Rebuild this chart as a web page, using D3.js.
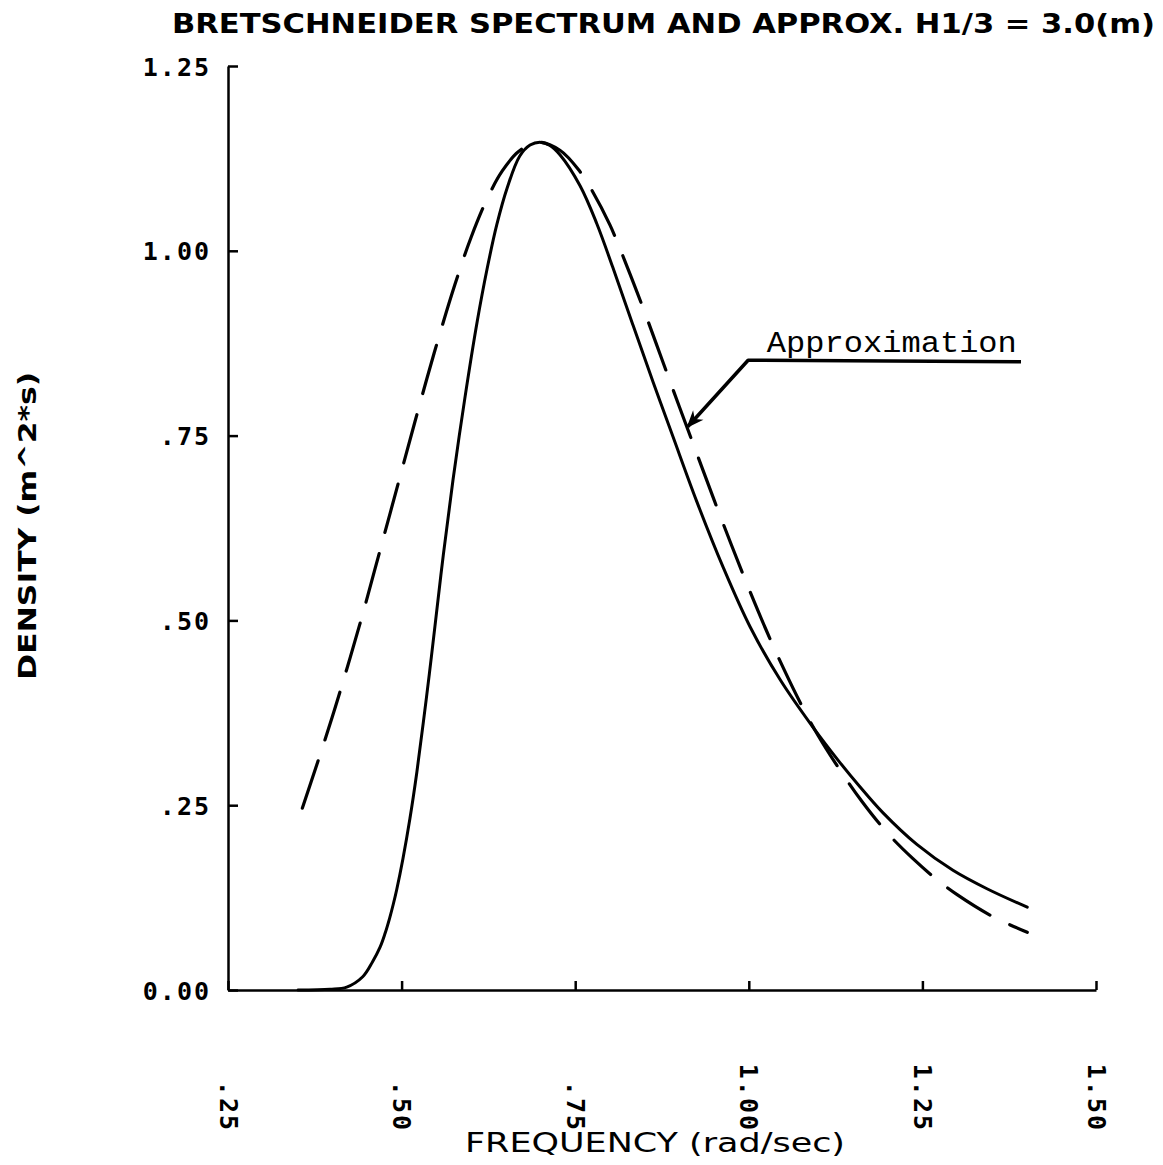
<!DOCTYPE html>
<html>
<head>
<meta charset="utf-8">
<script src="https://cdn.jsdelivr.net/npm/d3@7"></script>
<style>
  body { margin: 0; background: #fff; }
  .axis path, .axis line { stroke: #000; stroke-width: 2.5; }
  .axis text { font-family: "DejaVu Sans Mono", monospace; font-weight: bold; font-size: 25px; letter-spacing: 2px; fill: #000; }
  .label { font-family: "DejaVu Sans", sans-serif; fill: #000; }
</style>
</head>
<body>
<div id="chart"></div>
<script>
// axis ticks and labels
const freqTicks = [0.25, 0.50, 0.75, 1.00, 1.25, 1.50];
const freqLabels = ['.25', '.50', '.75', '1.00', '1.25', '1.50'];
const densityTicks = [0.00, 0.25, 0.50, 0.75, 1.00, 1.25];
const densityLabels = ['0.00', '.25', '.50', '.75', '1.00', '1.25'];

// Bretschneider spectrum (solid)
const spectrumFreq = [0.351, 0.397, 0.421, 0.444, 0.458, 0.469, 0.476, 0.483, 0.488, 0.493,
  0.502, 0.512, 0.522, 0.531, 0.540, 0.548, 0.560, 0.574, 0.591, 0.609,
  0.623, 0.637, 0.652, 0.670, 0.685, 0.699, 0.713, 0.728, 0.757, 0.781,
  0.804, 0.833, 0.862, 0.891, 0.925, 0.963, 1.002, 1.045, 1.092, 1.131,
  1.160, 1.193, 1.242, 1.294, 1.343, 1.401];
const spectrumDensity = [0.000, 0.001, 0.004, 0.018, 0.038, 0.058, 0.076, 0.098, 0.116, 0.136,
  0.178, 0.232, 0.295, 0.360, 0.428, 0.492, 0.588, 0.690, 0.800, 0.905,
  0.975, 1.035, 1.085, 1.128, 1.143, 1.147, 1.143, 1.130, 1.088, 1.037,
  0.978, 0.900, 0.823, 0.748, 0.661, 0.572, 0.491, 0.420, 0.356, 0.308,
  0.275, 0.240, 0.197, 0.162, 0.137, 0.112];

// approximation (dashed)
const approxFreq = [0.357, 0.378, 0.400, 0.421, 0.442, 0.467, 0.493, 0.519, 0.547, 0.577,
  0.600, 0.624, 0.645, 0.668, 0.695, 0.728, 0.757, 0.774, 0.800, 0.825,
  0.850, 0.875, 0.900, 0.925, 0.950, 0.975, 1.000, 1.025, 1.050, 1.075,
  1.100, 1.131, 1.163, 1.200, 1.236, 1.270, 1.300, 1.350, 1.401];
const approxDensity = [0.246, 0.305, 0.369, 0.434, 0.502, 0.588, 0.678, 0.768, 0.862, 0.955,
  1.018, 1.072, 1.108, 1.134, 1.147, 1.136, 1.107, 1.082, 1.035, 0.978,
  0.917, 0.853, 0.789, 0.726, 0.663, 0.602, 0.543, 0.487, 0.435, 0.387,
  0.344, 0.298, 0.255, 0.212, 0.178, 0.150, 0.129, 0.100, 0.078];

// annotation, in data units
const noteText = 'Approximation';
const noteTextAt = [1.026, 0.863];
const noteLine = [[1.392, 0.850], [0.999, 0.852], [0.912, 0.762]];

const W = 1163, H = 1165;
const margin = {top: 66, right: 67, bottom: 175, left: 228};
const width = W - margin.left - margin.right;
const height = H - margin.top - margin.bottom;

const x = d3.scaleLinear().domain([0.25, 1.5]).range([0, width]);
const y = d3.scaleLinear().domain([0, 1.25]).range([height, 0]);

const svg = d3.select('#chart').append('svg')
  .attr('width', W)
  .attr('height', H);

svg.append('defs').append('marker')
  .attr('id', 'head')
  .attr('viewBox', '0 0 10 10')
  .attr('refX', 9).attr('refY', 5)
  .attr('markerWidth', 7).attr('markerHeight', 5)
  .attr('markerUnits', 'strokeWidth')
  .attr('orient', 'auto')
  .append('path')
  .attr('d', 'M0,1 L10,5 L0,9 L3,5 Z')
  .attr('fill', '#000');

const g = svg.append('g')
  .attr('transform', `translate(${margin.left},${margin.top})`);

// title
svg.append('text')
  .attr('class', 'label')
  .attr('x', 172).attr('y', 33)
  .attr('textLength', 983)
  .attr('lengthAdjust', 'spacingAndGlyphs')
  .style('font-size', '26px')
  .style('font-weight', 'bold')
  .text('BRETSCHNEIDER SPECTRUM AND APPROX. H1/3 = 3.0(m)');

// y axis
g.append('g')
  .attr('class', 'axis')
  .call(d3.axisLeft(y)
    .tickValues(densityTicks)
    .tickFormat((d, i) => densityLabels[i])
    .tickSizeInner(-10)
    .tickSizeOuter(0)
    .tickPadding(17))
  .selectAll('text')
  .attr('dy', '0.36em');

// x axis
const xAxisG = g.append('g')
  .attr('class', 'axis')
  .attr('transform', `translate(0,${height})`)
  .call(d3.axisBottom(x)
    .tickValues(freqTicks)
    .tickFormat((d, i) => freqLabels[i])
    .tickSizeInner(-9)
    .tickSizeOuter(0));

xAxisG.selectAll('text')
  .attr('transform', 'rotate(90)')
  .attr('x', 142)
  .attr('y', 0)
  .attr('dy', '0.36em')
  .style('text-anchor', 'end');

// axis titles
svg.append('text')
  .attr('class', 'label')
  .attr('transform', 'translate(36,526) rotate(-90)')
  .attr('text-anchor', 'middle')
  .attr('textLength', 308)
  .attr('lengthAdjust', 'spacingAndGlyphs')
  .style('font-size', '24px')
  .style('font-weight', 'bold')
  .text('DENSITY (m^2*s)');

svg.append('text')
  .attr('class', 'label')
  .attr('x', 655).attr('y', 1152)
  .attr('text-anchor', 'middle')
  .attr('textLength', 380)
  .attr('lengthAdjust', 'spacingAndGlyphs')
  .style('font-size', '26px')
  .text('FREQUENCY (rad/sec)');

// curves
const line = d3.line()
  .curve(d3.curveCatmullRom.alpha(0.5))
  .x(d => x(d[0]))
  .y(d => y(d[1]));

g.append('path')
  .datum(spectrumFreq.map((f, i) => [f, spectrumDensity[i]]))
  .attr('d', line)
  .attr('fill', 'none')
  .attr('stroke', '#000')
  .attr('stroke-width', 3)
  .attr('stroke-linecap', 'round');

g.append('path')
  .datum(approxFreq.map((f, i) => [f, approxDensity[i]]))
  .attr('d', line)
  .attr('fill', 'none')
  .attr('stroke', '#000')
  .attr('stroke-width', 3.2)
  .attr('stroke-linecap', 'round')
  .attr('stroke-dasharray', '50,22');

// annotation
g.append('text')
  .attr('x', x(noteTextAt[0]))
  .attr('y', y(noteTextAt[1]))
  .attr('textLength', 250)
  .attr('lengthAdjust', 'spacingAndGlyphs')
  .style('font-family', '"Liberation Mono", "Courier New", monospace')
  .style('font-size', '30px')
  .style('fill', '#000')
  .text(noteText);

g.append('path')
  .datum(noteLine)
  .attr('d', d3.line().x(d => x(d[0])).y(d => y(d[1])))
  .attr('fill', 'none')
  .attr('stroke', '#000')
  .attr('stroke-width', 3.5)
  .attr('stroke-linejoin', 'round')
  .attr('marker-end', 'url(#head)');
</script>
</body>
</html>
